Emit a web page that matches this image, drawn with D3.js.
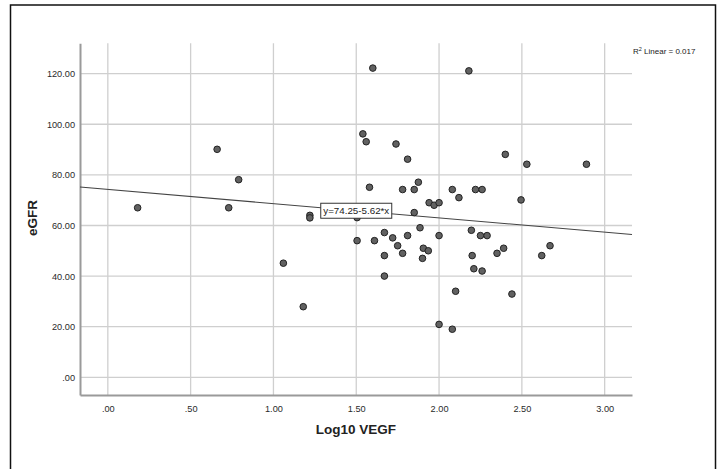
<!DOCTYPE html>
<html>
<head>
<meta charset="utf-8">
<script src="https://cdn.jsdelivr.net/npm/d3@7"></script>
<style>
    body { margin: 0; background: #fff; }
    text { font-family: Arial, "Liberation Sans", sans-serif; }
</style>
</head>
<body>
<div class="svg"></div>
<script>
// values
var log10VEGF = [0.18, 0.66, 0.73, 0.79, 1.06, 1.18, 1.22, 1.22, 1.505, 1.505,
    1.54, 1.56, 1.58, 1.60, 1.61, 1.67, 1.67, 1.67, 1.72, 1.74,
    1.75, 1.78, 1.78, 1.81, 1.81, 1.85, 1.85, 1.875, 1.885, 1.90,
    1.905, 1.935, 1.94, 1.97, 2.00, 2.00, 2.00, 2.08, 2.08, 2.10,
    2.12, 2.18, 2.195, 2.20, 2.21, 2.22, 2.25, 2.26, 2.26, 2.29,
    2.35, 2.39, 2.40, 2.44, 2.495, 2.53, 2.62, 2.67, 2.89];
var eGFR = [67.0, 90.1, 67.0, 78.1, 45.1, 27.9, 64.0, 63.0, 63.1, 54.0,
    96.2, 93.1, 75.1, 122.2, 54.0, 57.2, 48.1, 40.0, 55.1, 92.2,
    52.0, 74.2, 49.0, 86.2, 56.0, 74.2, 65.1, 77.1, 59.1, 47.0,
    51.0, 50.0, 69.0, 68.0, 69.0, 56.0, 20.9, 74.2, 19.0, 34.0,
    71.0, 121.1, 58.1, 48.1, 42.9, 74.2, 56.0, 74.2, 42.0, 56.0,
    49.0, 51.0, 88.1, 32.9, 70.1, 84.2, 48.1, 52.0, 84.2];
var xTicks = [0, 0.5, 1, 1.5, 2, 2.5, 3];
var yTicks = [0, 20, 40, 60, 80, 100, 120];
var fitA = 74.25, fitB = -5.62;
var r2Text = "0.017";

var width = 724,
    height = 469;

var svg = d3.select(".svg").append("svg")
    .attr("width", width)
    .attr("height", height);

// outer frame (runs off the bottom)
svg.append("rect")
    .attr("x", 10.5).attr("y", 5)
    .attr("width", 705).attr("height", 480)
    .attr("fill", "none")
    .attr("stroke", "#111")
    .attr("stroke-width", 1.5);

var x = d3.scaleLinear().domain([-0.168, 3.165]).range([80, 632]);
var y = d3.scaleLinear().domain([-7, 132]).range([395, 43.3]);

function fmt(v) {
    return d3.format(".2f")(v).replace(/^0\./, ".");
}

// grid
svg.append("g").selectAll("line")
    .data(xTicks)
    .enter().append("line")
    .attr("x1", function (d) { return x(d); })
    .attr("x2", function (d) { return x(d); })
    .attr("y1", y.range()[1]).attr("y2", y.range()[0])
    .attr("stroke", "#cfcfcf").attr("stroke-width", 1.3);

svg.append("g").selectAll("line")
    .data(yTicks)
    .enter().append("line")
    .attr("x1", x.range()[0]).attr("x2", x.range()[1])
    .attr("y1", function (d) { return y(d); })
    .attr("y2", function (d) { return y(d); })
    .attr("stroke", "#cfcfcf").attr("stroke-width", 1.3);

// axes
var xAxis = svg.append("g")
    .attr("transform", "translate(0," + y.range()[0] + ")")
    .call(d3.axisBottom(x).tickValues(xTicks).tickFormat(fmt).tickSize(0).tickPadding(10));
var yAxis = svg.append("g")
    .attr("transform", "translate(" + x.range()[0] + ",0)")
    .call(d3.axisLeft(y).tickValues(yTicks).tickFormat(fmt).tickSize(0).tickPadding(5));

[xAxis, yAxis].forEach(function (g) {
    g.select(".domain").attr("stroke", "#9a9a9a").attr("stroke-width", 2);
    g.selectAll("text")
        .attr("fill", "#2a2a2a")
        .style("font-size", "9.2px")
        .style("font-family", "Arial, 'Liberation Sans', sans-serif");
});

// fit line
var xd = x.domain();
svg.append("line")
    .attr("x1", x(xd[0])).attr("y1", y(fitA + fitB * xd[0]))
    .attr("x2", x(xd[1])).attr("y2", y(fitA + fitB * xd[1]))
    .attr("stroke", "#444")
    .attr("stroke-width", 1.1);

// points
svg.append("g").selectAll("circle")
    .data(d3.range(log10VEGF.length))
    .enter().append("circle")
    .attr("cx", function (i) { return x(log10VEGF[i]); })
    .attr("cy", function (i) { return y(eGFR[i]); })
    .attr("r", 3.3)
    .attr("fill", "#616161")
    .attr("stroke", "#222")
    .attr("stroke-width", 1);

// equation label on the line at x = 1.5
var lx = x(1.5), ly = y(fitA + fitB * 1.5);
var lab = svg.append("g").attr("transform", "translate(" + lx + "," + ly + ")");
lab.append("rect")
    .attr("x", -35.5).attr("y", -7.5)
    .attr("width", 71).attr("height", 15)
    .attr("fill", "#fff")
    .attr("stroke", "#333")
    .attr("stroke-width", 1);
lab.append("text")
    .attr("text-anchor", "middle")
    .attr("y", 3.5)
    .attr("fill", "#222")
    .style("font-size", "9.5px")
    .attr("textLength", 66)
    .attr("lengthAdjust", "spacingAndGlyphs")
    .text("y=" + fitA.toFixed(2) + (fitB < 0 ? "-" : "+") + Math.abs(fitB).toFixed(2) + "*x");

// R2 note
var r2 = svg.append("text")
    .attr("x", 633).attr("y", 54)
    .attr("fill", "#222")
    .style("font-size", "8px");
r2.append("tspan").text("R");
r2.append("tspan").attr("dy", -3.5).style("font-size", "5.5px").text("2");
r2.append("tspan").attr("dy", 3.5).text(" Linear = " + r2Text);

// titles
svg.append("text")
    .attr("x", (x.range()[0] + x.range()[1]) / 2)
    .attr("y", 434)
    .attr("text-anchor", "middle")
    .attr("fill", "#222")
    .style("font-size", "13.5px")
    .style("font-weight", "bold")
    .text("Log10 VEGF");

svg.append("text")
    .attr("transform", "translate(37,218) rotate(-90)")
    .attr("text-anchor", "middle")
    .attr("fill", "#222")
    .style("font-size", "13.5px")
    .style("font-weight", "bold")
    .text("eGFR");
</script>
</body>
</html>
